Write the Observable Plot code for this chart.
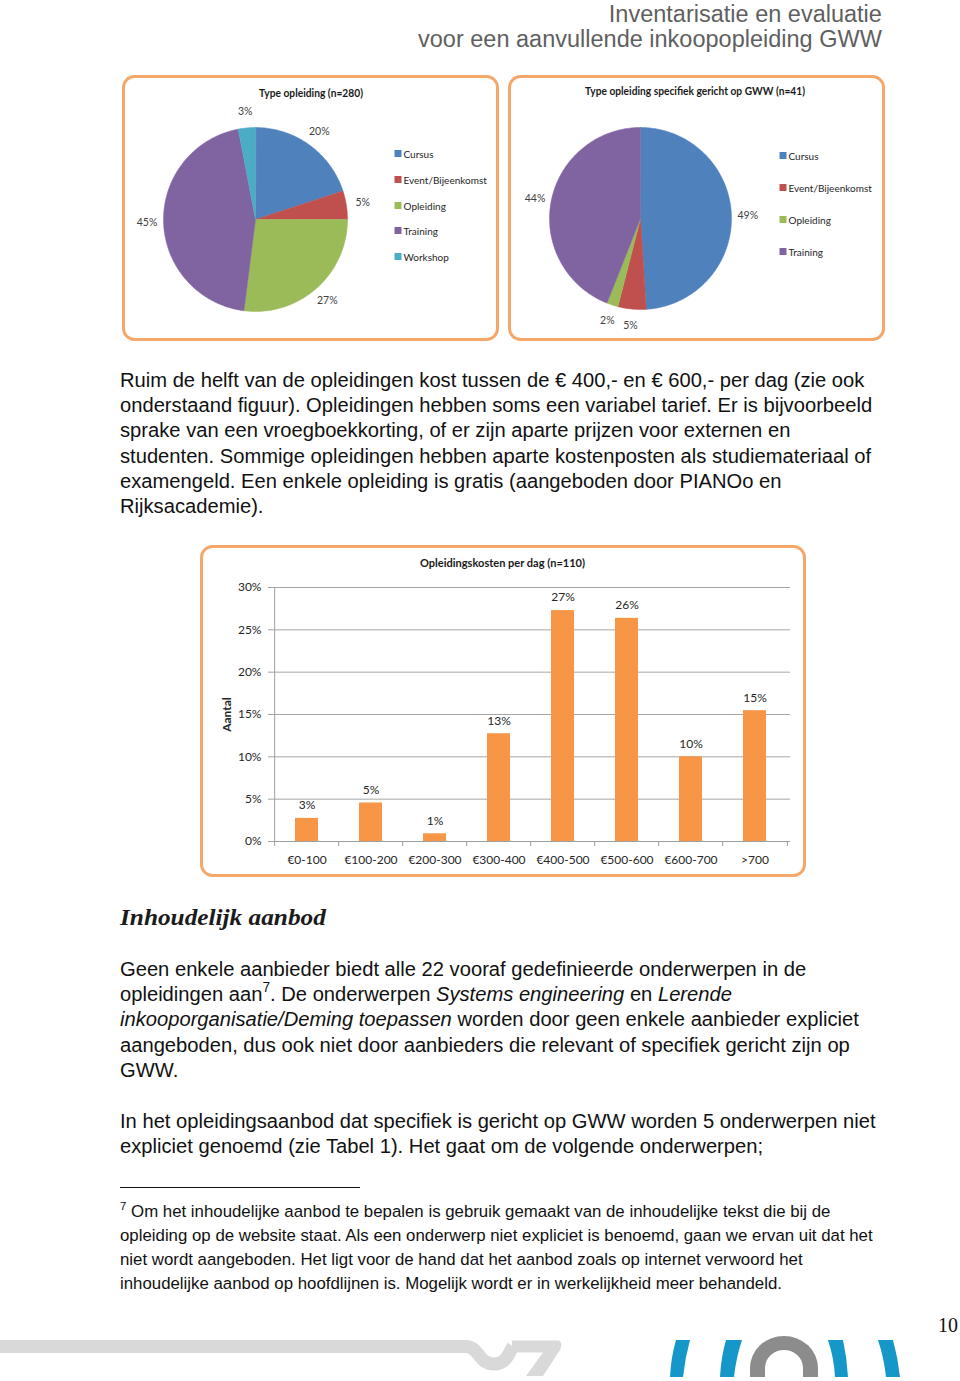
<!DOCTYPE html>
<html><head><meta charset="utf-8">
<script src="https://cdn.jsdelivr.net/npm/d3@7"></script>
<script src="https://cdn.jsdelivr.net/npm/@observablehq/plot@0.6"></script>
<style>
html,body{margin:0;padding:0;background:#fff;}
#page{position:relative;width:960px;height:1381px;overflow:hidden;background:#fff;}
#bg{position:absolute;left:0;top:0;}
.plotbox{position:absolute;}
.plotbox svg{display:block;overflow:visible;}
[aria-label="y-axis label"] text{font-weight:bold;}
</style></head><body><div id="page"><svg id="bg" width="960" height="1381" xmlns="http://www.w3.org/2000/svg"></svg></div>
<script>
// ---------------- DATA ----------------
const pie1Title = "Type opleiding (n=280)";
const pie1Categories = ["Cursus", "Event/Bijeenkomst", "Opleiding", "Training", "Workshop"];
const pie1Values = [20, 5, 27, 45, 3];

const pie2Title = "Type opleiding specifiek gericht op GWW (n=41)";
const pie2Categories = ["Cursus", "Event/Bijeenkomst", "Opleiding", "Training"];
const pie2Values = [49, 5, 2, 44];

const typeColors = ["#4F81BD", "#C0504D", "#9BBB59", "#8064A2", "#4BACC6"];

const barTitle = "Opleidingskosten per dag (n=110)";
const costCategories = ["€0-100", "€100-200", "€200-300", "€300-400", "€400-500", "€500-600", "€600-700", ">700"];
const costValues = [2.73, 4.55, 0.91, 12.73, 27.27, 26.36, 10.0, 15.45];
const costTicks = [0, 5, 10, 15, 20, 25, 30];
const barColor = "#F79646";

// ---------------- PAGE TEXT ----------------
const header = ["Inventarisatie en evaluatie", "voor een aanvullende inkoopopleiding GWW"];
const para1 = [
  [["Ruim de helft van de opleidingen kost tussen de € 400,- en € 600,- per dag (zie ook"]],
  [["onderstaand figuur). Opleidingen hebben soms een variabel tarief. Er is bijvoorbeeld"]],
  [["sprake van een vroegboekkorting, of er zijn aparte prijzen voor externen en"]],
  [["studenten. Sommige opleidingen hebben aparte kostenposten als studiemateriaal of"]],
  [["examengeld. Een enkele opleiding is gratis (aangeboden door PIANOo en"]],
  [["Rijksacademie)."]]
];
const heading = "Inhoudelijk aanbod";
const para2 = [
  [["Geen enkele aanbieder biedt alle 22 vooraf gedefinieerde onderwerpen in de"]],
  [["opleidingen aan"], ["7", "sup"], [". De onderwerpen "], ["Systems engineering", "i"], [" en "], ["Lerende", "i"]],
  [["inkooporganisatie/Deming toepassen", "i"], [" worden door geen enkele aanbieder expliciet"]],
  [["aangeboden, dus ook niet door aanbieders die relevant of specifiek gericht zijn op"]],
  [["GWW."]]
];
const para3 = [
  [["In het opleidingsaanbod dat specifiek is gericht op GWW worden 5 onderwerpen niet"]],
  [["expliciet genoemd (zie Tabel 1). Het gaat om de volgende onderwerpen;"]]
];
const footnote = [
  [["7", "sup"], [" Om het inhoudelijke aanbod te bepalen is gebruik gemaakt van de inhoudelijke tekst die bij de"]],
  [["opleiding op de website staat. Als een onderwerp niet expliciet is benoemd, gaan we ervan uit dat het"]],
  [["niet wordt aangeboden. Het ligt voor de hand dat het aanbod zoals op internet verwoord het"]],
  [["inhoudelijke aanbod op hoofdlijnen is. Mogelijk wordt er in werkelijkheid meer behandeld."]]
];
const pageNumber = "10";

// ---------------- HELPERS ----------------
const NS = "http://www.w3.org/2000/svg";
const bg = document.getElementById("bg");
const page = document.getElementById("page");
function el(tag, attrs, parent = bg) {
  const e = document.createElementNS(NS, tag);
  for (const k in attrs) e.setAttribute(k, attrs[k]);
  parent.appendChild(e);
  return e;
}
function textLine(segs, x, y, size, opts = {}) {
  const t = el("text", {x: 0, y: 0, "font-family": opts.family || "Liberation Sans", "font-size": size, fill: opts.fill || "#111",
    "font-weight": opts.weight || "normal", "font-style": opts.style || "normal", transform: `translate(${x},${y})`});
  let shifted = false;
  for (const [s, kind] of segs) {
    const sp = el("tspan", {}, t);
    if (kind === "i") sp.setAttribute("font-style", "italic");
    if (kind === "sup") { sp.setAttribute("font-size", size * 0.68); sp.setAttribute("dy", -size * 0.42); shifted = true; }
    else if (shifted) { sp.setAttribute("dy", size * 0.42); shifted = false; }
    sp.textContent = s;
  }
  return t;
}
function block(lines, x, y0, lh, size, refIndex, refWidth, opts = {}) {
  const ts = lines.map((segs, i) => textLine(segs, x, y0 + i * lh, size, opts));
  const k = refWidth / ts[refIndex].getComputedTextLength();
  ts.forEach((t, i) => t.setAttribute("transform", `translate(${x},${y0 + i * lh}) scale(${k},1)`));
  return k;
}

// ---------------- HEADER ----------------
{
  const t1 = textLine([[header[0]]], 0, 0, 24, {fill: "#5f5f5f"});
  const t2 = textLine([[header[1]]], 0, 0, 24, {fill: "#5f5f5f"});
  const k = 464 / t2.getComputedTextLength();
  const w1 = t1.getComputedTextLength() * k;
  t1.setAttribute("transform", `translate(${882 - w1},22) scale(${k},1)`);
  t2.setAttribute("transform", `translate(418,47) scale(${k},1)`);
}

// ---------------- BOXES ----------------
const boxStroke = "#F5A669";
const boxes = [
  {x: 122, y: 75, w: 377, h: 266},
  {x: 508, y: 75, w: 377, h: 266},
  {x: 200, y: 545, w: 606, h: 332}
];
boxes.forEach(b => el("rect", {x: b.x + 1.5, y: b.y + 1.5, width: b.w - 3, height: b.h - 3, rx: 11, ry: 11, fill: "#fff", stroke: boxStroke, "stroke-width": 3}));

// chart titles
function chartText(s, x, y, size, w, weight = "bold", anchor = "start", fill = "#1a1a1a") {
  const t = el("text", {x, y, "font-family": "Lato", "font-size": size, "font-weight": weight, fill, "text-anchor": anchor});
  t.textContent = s;
  if (w) { t.setAttribute("textLength", w); t.setAttribute("lengthAdjust", "spacingAndGlyphs"); }
  return t;
}
chartText(pie1Title, 259, 97, 10.5, 104);
chartText(pie2Title, 585, 95, 10.5, 220);
chartText(barTitle, 420, 567, 11, 165);

// legends
function legend(cats, x, ys) {
  cats.forEach((c, i) => {
    el("rect", {x: x, y: ys[i] - 4, width: 7, height: 7, fill: typeColors[i]});
    chartText(c, x + 9, ys[i] + 3.5, 10, null, "normal", "start", "#262626");
  });
}
legend(pie1Categories, 394.5, [154, 180, 206, 231, 257]);
legend(pie2Categories, 779.5, [156, 188, 220, 252]);

// ---------------- BODY TEXT ----------------
const kBody = block(para1, 120, 387, 25.2, 21, 0, 745);
{
  const ts = para2.map((segs, i) => textLine(segs, 120, 976 + i * 25.2, 21));
  ts.forEach((t, i) => t.setAttribute("transform", `translate(120,${976 + i * 25.2}) scale(${kBody},1)`));
  const ts3 = para3.map((segs, i) => textLine(segs, 120, 1128 + i * 25.2, 21));
  ts3.forEach((t, i) => t.setAttribute("transform", `translate(120,${1128 + i * 25.2}) scale(${kBody},1)`));
}
{
  const h = textLine([[heading]], 120, 925, 23, {family: "Liberation Serif", weight: "bold", style: "italic", fill: "#1b1b1b"});
  const k = 206 / h.getComputedTextLength();
  h.setAttribute("transform", `translate(120,925) scale(${k},1)`);
}
el("line", {x1: 120, x2: 360, y1: 1187.5, y2: 1187.5, stroke: "#111", "stroke-width": 1});
block(footnote, 120, 1217, 24, 16.5, 1, 753);

// ---------------- FOOTER ----------------
el("path", {d: "M0,1346.5 H466 C479,1346.5 478,1364 494,1364 C507,1364 509,1352 513,1346.5", fill: "none", stroke: "#d9d9d9", "stroke-width": 13});
el("path", {d: "M512,1340.5 H558 C562,1340.5 562,1346 560,1350 L543,1376 H526 L543,1352.5 H512 Z", fill: "#d9d9d9"});
const blue = "#1597c9";
el("path", {d: "M676,1340 L690,1340 Q685,1358 683,1377 L670,1377 Q671,1357 676,1340 Z", fill: blue});
el("path", {d: "M726,1340 L742,1340 Q736,1358 734,1377 L720,1377 Q721,1357 726,1340 Z", fill: blue});
el("path", {d: "M828,1340 L843,1340 Q847,1358 848,1377 L835,1377 Q834,1358 828,1340 Z", fill: blue});
el("path", {d: "M878,1340 L893,1340 Q898,1358 900,1377 L886,1377 Q884,1358 878,1340 Z", fill: blue});
el("path", {d: "M750,1377 V1368 A34,32 0 0 1 818,1368 V1377 H803 V1368 A19,18 0 0 0 765,1368 V1377 Z", fill: "#8c8c8c"});
{
  const t = el("text", {x: 958, y: 1332, "font-family": "Liberation Serif", "font-size": 20, fill: "#111", "text-anchor": "end"});
  t.textContent = pageNumber;
}

// ---------------- PIE CHARTS ----------------
function pieChart(cats, vals, box, cx, cy, r) {
  const total = d3.sum(vals);
  let acc = 0;
  const slices = cats.map((c, i) => {
    const a0 = acc / total * 2 * Math.PI; acc += vals[i];
    const a1 = acc / total * 2 * Math.PI;
    return {cat: c, value: vals[i], a0, a1, mid: (a0 + a1) / 2};
  });
  const pts = slices.flatMap(s => {
    const n = Math.max(2, Math.ceil((s.a1 - s.a0) / (Math.PI / 180)));
    const arr = [{cat: s.cat, x: 0, y: 0}];
    for (let k = 0; k <= n; k++) {
      const a = s.a0 + (s.a1 - s.a0) * k / n;
      arr.push({cat: s.cat, x: Math.sin(a), y: Math.cos(a)});
    }
    return arr;
  });
  const px0 = cx - box.x, py0 = cy - box.y;
  const svg = Plot.plot({
    width: box.w, height: box.h, margin: 0,
    style: {background: "transparent", fontFamily: "Lato", overflow: "visible"},
    x: {domain: [-px0 / r, (box.w - px0) / r], axis: null},
    y: {domain: [-(box.h - py0) / r, py0 / r], axis: null},
    color: {domain: cats, range: typeColors.slice(0, cats.length)},
    marks: [
      Plot.line(pts, {x: "x", y: "y", z: "cat", fill: "cat", stroke: "cat", strokeWidth: 0.5, curve: "linear-closed"}),
      Plot.text(slices, {x: d => 1.18 * Math.sin(d.mid), y: d => 1.18 * Math.cos(d.mid), text: d => d.value + "%", fontSize: 10.5, fill: "#404040"})
    ]
  });
  const div = document.createElement("div");
  div.className = "plotbox";
  div.style.left = box.x + "px"; div.style.top = box.y + "px";
  div.appendChild(svg);
  page.appendChild(div);
}
pieChart(pie1Categories, pie1Values, {x: 122, y: 75, w: 377, h: 266}, 255, 219, 92);
pieChart(pie2Categories, pie2Values, {x: 508, y: 75, w: 377, h: 266}, 640, 218, 91);

// ---------------- BAR CHART ----------------
{
  const W = 606, H = 332, ml = 72, mr = 16, mt = 42, mb = 36;
  const step = (W - ml - mr) / costCategories.length;
  const costData = costCategories.map((c, i) => ({cat: c, value: costValues[i]}));
  const pxPerUnit = (H - mt - mb) / 30;
  const tickLen = 5 / pxPerUnit;
  const svg = Plot.plot({
    width: W, height: H, marginLeft: ml, marginRight: mr, marginTop: mt, marginBottom: mb,
    style: {background: "transparent", fontFamily: "Lato", fontSize: "12px", color: "#262626", overflow: "visible"},
    x: {domain: costCategories, paddingInner: 0.64, paddingOuter: 0.32},
    y: {domain: [0, 30]},
    marks: [
      Plot.gridY(costTicks, {stroke: "#a6a6a6", strokeOpacity: 1}),
      Plot.ruleX(costCategories.slice(0, 1), {x: d => d, dx: -step / 2, y1: -tickLen, y2: 30, stroke: "#a0a0a0"}),
      Plot.ruleX(costCategories.slice(1), {x: d => d, dx: -step / 2, y1: -tickLen, y2: 0, stroke: "#a0a0a0"}),
      Plot.ruleX(costCategories.slice(-1), {x: d => d, dx: step / 2, y1: -tickLen, y2: 0, stroke: "#a0a0a0"}),
      Plot.ruleY([0], {stroke: "#a0a0a0"}),
      Plot.barY(costData, {x: "cat", y: "value", fill: barColor}),
      Plot.text(costData, {x: "cat", y: "value", text: d => Math.round(d.value) + "%", dy: -13, fontSize: 12, fill: "#262626"}),
      Plot.axisY({ticks: costTicks, tickFormat: d => d + "%", tickSize: 4, tickPadding: 7, stroke: "#a0a0a0",
        label: "Aantal", labelAnchor: "center", labelArrow: "none", labelOffset: 50, fontSize: 12}),
      Plot.axisX({tickSize: 0, tickPadding: 14, label: null, fontSize: 12})
    ]
  });
  const div = document.createElement("div");
  div.className = "plotbox";
  div.style.left = "200px"; div.style.top = "545px";
  div.appendChild(svg);
  page.appendChild(div);
}
</script></body></html>
